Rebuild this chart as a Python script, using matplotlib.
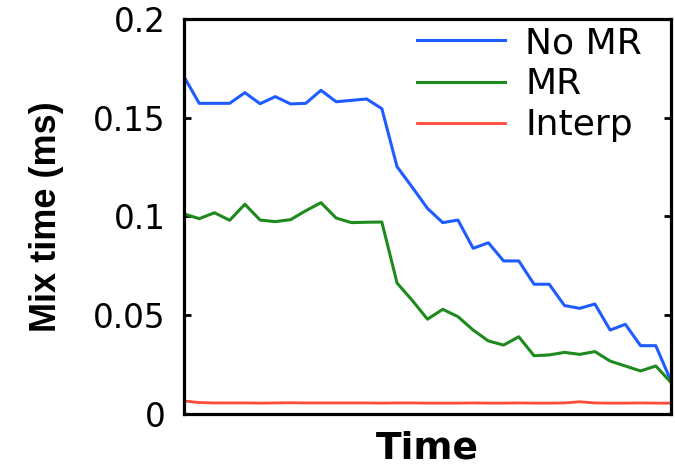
import matplotlib
matplotlib.use("Agg")
import matplotlib.pyplot as plt
import numpy as np

time_steps = list(range(33))
no_mr = [0.1708, 0.1573, 0.1573, 0.1573, 0.1627, 0.1571, 0.1607, 0.1570, 0.1573,
         0.1639, 0.1581, 0.1588, 0.1595, 0.1546, 0.1252, 0.1148, 0.1041, 0.0969,
         0.0982, 0.0839, 0.0867, 0.0775, 0.0775, 0.0657, 0.0657, 0.0549, 0.0535,
         0.0557, 0.0425, 0.0454, 0.0346, 0.0346, 0.0167]
mr = [0.1013, 0.0989, 0.1019, 0.0981, 0.1062, 0.0982, 0.0974, 0.0984, 0.1029,
      0.1070, 0.0992, 0.0969, 0.0971, 0.0972, 0.0663, 0.0575, 0.0480, 0.0530,
      0.0493, 0.0425, 0.0370, 0.0349, 0.0391, 0.0295, 0.0299, 0.0312, 0.0302,
      0.0316, 0.0268, 0.0243, 0.0218, 0.0243, 0.0160]
interp = [0.0066, 0.0058, 0.0056, 0.0056, 0.0056, 0.0055, 0.0056, 0.0057, 0.0056,
          0.0056, 0.0056, 0.0056, 0.0056, 0.0055, 0.0056, 0.0056, 0.0055, 0.0055,
          0.0055, 0.0056, 0.0055, 0.0055, 0.0056, 0.0055, 0.0055, 0.0056, 0.0062,
          0.0056, 0.0055, 0.0055, 0.0056, 0.0055, 0.0055]
series_labels = ["No MR", "MR", "Interp"]
yticks = [0, 0.05, 0.1, 0.15, 0.2]
ytick_labels = ["0", "0.05", "0.1", "0.15", "0.2"]

W, H = 675, 466
fig = plt.figure(figsize=(W / 100, H / 100), dpi=100)
ax = fig.add_axes([184 / W, 1 - 414 / H, (671 - 184) / W, (414 - 19) / H])

ax.plot(time_steps, no_mr, color="#1f5cff", lw=2.2, label=series_labels[0])
ax.plot(time_steps, mr, color="#1e8a1e", lw=2.2, label=series_labels[1])
ax.plot(time_steps, interp, color="#ff4a3a", lw=2.0, label=series_labels[2])

ax.set_xlim(time_steps[0], time_steps[-1])
ax.set_ylim(0, 0.2)
ax.set_xticks([])
ax.set_yticks(yticks)
ax.set_yticklabels(ytick_labels, fontfamily="DejaVu Sans", fontsize=23.5)
ax.tick_params(axis="y", direction="in", length=5, width=2, left=True, right=True, pad=13)
for sp in ax.spines.values():
    sp.set_linewidth(2.3)

ax.set_xlabel("Time", fontfamily="DejaVu Sans", fontweight="bold", fontsize=27, labelpad=12)
ax.set_ylabel("Mix time (ms)", fontfamily="Liberation Sans", fontweight="bold", fontsize=26)
ax.yaxis.set_label_coords((64 - 184) / 487, 0.5)

leg = ax.legend(loc="upper left", bbox_to_anchor=(417 / W, 1 - 26 / H),
                bbox_transform=fig.transFigure, frameon=False,
                prop={"family": "DejaVu Sans", "size": 26},
                handlelength=2.45, handletextpad=0.55, labelspacing=0.2,
                borderpad=0, borderaxespad=0)

fig.savefig("out.png", dpi=100)
